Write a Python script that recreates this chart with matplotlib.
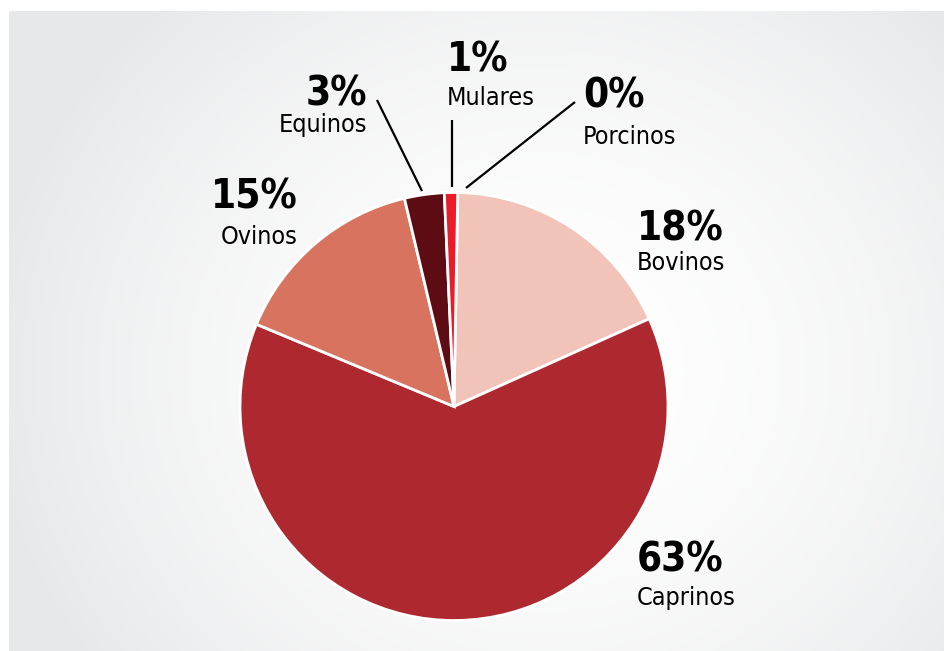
import matplotlib

matplotlib.use("Agg")
import matplotlib.pyplot as plt
import numpy as np

# share of livestock by species, clockwise from the top
species = ["Porcinos", "Bovinos", "Caprinos", "Ovinos", "Equinos", "Mulares"]
shares = [0, 18, 63, 15, 3, 1]
colors = ["#e0303a", "#f2c3b9", "#ae2830", "#d7735e", "#5e0c14", "#ea1c2a"]

W, H = 945, 651
plt.rcParams["font.family"] = ["DejaVu Sans"]
plt.rcParams["font.stretch"] = "condensed"


def py(y):
    # pixel row (from the top) to data y
    return H - y


fig = plt.figure(figsize=(W / 100, H / 100), dpi=100)
ax = fig.add_axes([0, 0, 1, 1])

# soft grey panel, lighter towards the middle
gx, gy = np.meshgrid(np.arange(9, W), np.arange(11, H))
dist = np.hypot(gx - 540, (gy - 370) * 1.1) / 560
dist = np.clip(dist, 0, 1) ** 1.8
lo = np.array([1.0, 1.0, 1.0])
hi = np.array([0.905, 0.91, 0.915])
bg = lo + (hi - lo) * dist[..., None]
ax.imshow(bg, extent=[9, W, py(H), py(11)], origin="upper", zorder=0)

center = (454, py(406.5))
radius = 214
ax.pie(
    shares,
    colors=colors,
    startangle=89,
    counterclock=False,
    center=center,
    radius=radius,
    wedgeprops={"edgecolor": "white", "linewidth": 2.0},
    frame=True,
)
ax.set_xlim(0, W)
ax.set_ylim(0, H)
ax.set_aspect("equal")
ax.axis("off")

# label anchors: (x, y of percent, y of name, ha)
labels = {
    "Mulares": (447, 60, 98, "left"),
    "Porcinos": (583, 97, 137, "left"),
    "Equinos": (367, 94, 125, "right"),
    "Ovinos": (298, 198, 237, "right"),
    "Bovinos": (637, 230, 263, "left"),
    "Caprinos": (637, 561, 598, "left"),
}
for name, share in zip(species, shares):
    x, yp, yn, ha = labels[name]
    ax.text(x, py(yp), f"{share}%", ha=ha, va="center", fontsize=29,
            fontweight="bold", color="black")
    ax.text(x, py(yn), name, ha=ha, va="center", fontsize=18, color="black")

# leader lines for the thin slices
leaders = [((377, 100), (422, 191)), ((452, 120), (452, 187)), ((575, 102), (466, 188))]
for (x0, y0), (x1, y1) in leaders:
    ax.plot([x0, x1], [py(y0), py(y1)], color="black", lw=1.6, solid_capstyle="butt")

fig.savefig("out.png", dpi=100)
